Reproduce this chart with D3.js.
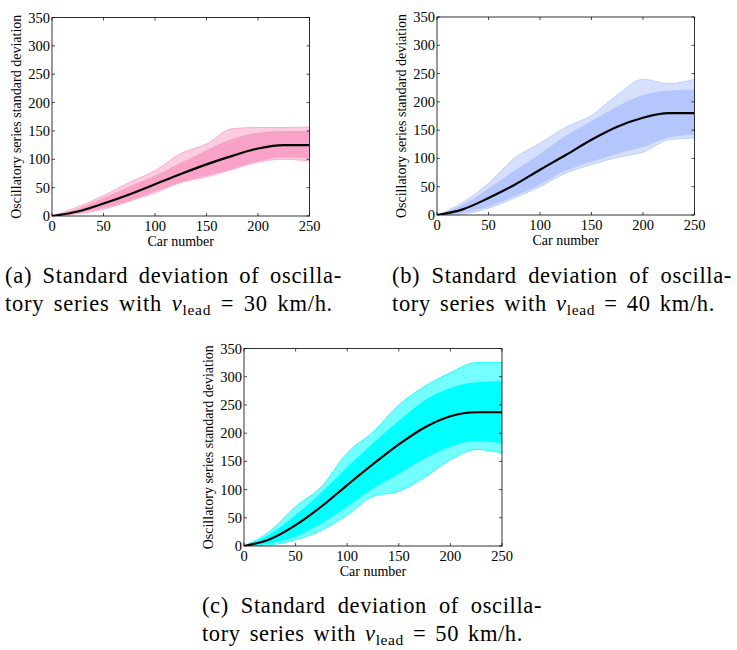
<!DOCTYPE html>
<html>
<head>
<meta charset="utf-8">
<script src="https://cdn.jsdelivr.net/npm/d3@7"></script>
<style>
    body { margin: 0; background: #fff; }
</style>
</head>
<body>
<div id="draw"></div>
<script>
var cars = [0, 25, 50, 75, 100, 125, 150, 175, 200, 225, 250];

// (a) v_lead = 30 km/h
var meanA = [0, 8, 22, 38, 56, 74, 91, 106, 119, 125, 125];
var upperA = [0, 16, 36, 59, 80, 110, 127, 154, 156, 156, 157];
var coreHighA = [0, 13, 32, 52, 71, 94, 116, 136, 147, 150, 150];
var coreLowA = [0, 5, 14, 27, 43, 59, 71, 83, 96, 103, 102];
var lowerA = [0, 4, 12, 26, 41, 59, 69, 82, 95, 100, 97];

// (b) v_lead = 40 km/h
var meanB = [0, 10, 30, 53, 80, 106, 133, 156, 172, 180, 180];
var upperB = [0, 22, 56, 100, 127, 155, 176, 212, 240, 232, 240];
var coreHighB = [0, 18, 47, 78, 108, 140, 166, 192, 212, 220, 222];
var coreLowB = [0, 4, 15, 33, 54, 78, 94, 108, 120, 137, 142];
var lowerB = [0, 2, 12, 30, 50, 74, 89, 102, 111, 133, 136];

// (c) v_lead = 50 km/h
var meanC = [0, 12, 37, 70, 108, 145, 180, 210, 230, 237, 237];
var upperC = [0, 26, 70, 105, 165, 202, 250, 283, 307, 325, 325];
var coreHighC = [0, 21, 55, 95, 140, 182, 222, 258, 280, 290, 292];
var coreLowC = [0, 5, 17, 40, 70, 102, 128, 155, 176, 186, 182];
var lowerC = [0, 2, 11, 28, 55, 88, 97, 122, 153, 171, 165];

var xTicks = [0, 50, 100, 150, 200, 250];
var yTicks = [0, 50, 100, 150, 200, 250, 300, 350];
var speeds = ['30', '40', '50'];
var letters = ['a', 'b', 'c'];

var serif = '"Liberation Serif", "DejaVu Serif", serif';

var svg = d3.select('#draw').append('svg')
    .attr('width', 737)
    .attr('height', 650)
    .attr('font-family', serif);

var panels = [
    {left: 52, top: 17.5, right: 309.5, bottom: 216, color: '#f9a2c8',
        mean: meanA, upper: upperA, lower: lowerA, hi: coreHighA, lo: coreLowA,
        cap: {x: 5, y: 283, w1: 337, w2: 328}},
    {left: 437, top: 17, right: 694.5, bottom: 215, color: '#b4c6fc',
        mean: meanB, upper: upperB, lower: lowerB, hi: coreHighB, lo: coreLowB,
        cap: {x: 392, y: 283, w1: 340, w2: 323}},
    {left: 244, top: 348.5, right: 502, bottom: 546, color: '#00ffff',
        mean: meanC, upper: upperC, lower: lowerC, hi: coreHighC, lo: coreLowC,
        cap: {x: 202, y: 613, w1: 340, w2: 321}}
];

function drawPanel(p, k) {
    var x = d3.scaleLinear().domain([0, 250]).range([p.left, p.right]),
        y = d3.scaleLinear().domain([0, 350]).range([p.bottom, p.top]);

    var g = svg.append('g');
    var clipId = 'clip' + k;
    g.append('clipPath').attr('id', clipId)
        .append('rect')
        .attr('x', p.left).attr('y', p.top)
        .attr('width', p.right - p.left).attr('height', p.bottom - p.top);

    var plot = g.append('g').attr('clip-path', 'url(#' + clipId + ')');

    var band = function (lo, hi) {
        return d3.area()
            .x(function (d, i) { return x(cars[i]); })
            .y0(function (d, i) { return y(lo[i]); })
            .y1(function (d, i) { return y(hi[i]); })
            .curve(d3.curveMonotoneX)(cars);
    };
    var line = d3.line()
        .x(function (d, i) { return x(cars[i]); })
        .y(function (d) { return y(d); })
        .curve(d3.curveMonotoneX);

    // spread of the individual runs, then the dense core
    plot.append('path').attr('d', band(p.lower, p.upper))
        .attr('fill', p.color).attr('fill-opacity', 0.55);
    plot.append('path').attr('d', band(p.lo, p.hi))
        .attr('fill', p.color);
    [p.upper, p.lower].forEach(function (arr) {
        plot.append('path').attr('d', line(arr))
            .attr('fill', 'none').attr('stroke', p.color).attr('stroke-width', 0.8);
    });

    // mean curve
    plot.append('path').attr('d', line(p.mean))
        .attr('fill', 'none').attr('stroke', '#000').attr('stroke-width', 2.2);

    // box with inward ticks on all four sides (matlab style)
    var tl = 3;
    g.append('rect')
        .attr('x', p.left).attr('y', p.top)
        .attr('width', p.right - p.left).attr('height', p.bottom - p.top)
        .attr('fill', 'none').attr('stroke', '#000').attr('stroke-width', 0.8);
    xTicks.forEach(function (t) {
        g.append('line').attr('x1', x(t)).attr('x2', x(t))
            .attr('y1', p.bottom).attr('y2', p.bottom - tl)
            .attr('stroke', '#000').attr('stroke-width', 0.7);
        g.append('line').attr('x1', x(t)).attr('x2', x(t))
            .attr('y1', p.top).attr('y2', p.top + tl)
            .attr('stroke', '#000').attr('stroke-width', 0.7);
        g.append('text').attr('x', x(t)).attr('y', p.bottom + 14.5)
            .attr('text-anchor', 'middle').attr('font-size', 14.5)
            .text(t);
    });
    yTicks.forEach(function (t) {
        g.append('line').attr('x1', p.left).attr('x2', p.left + tl)
            .attr('y1', y(t)).attr('y2', y(t))
            .attr('stroke', '#000').attr('stroke-width', 0.7);
        g.append('line').attr('x1', p.right).attr('x2', p.right - tl)
            .attr('y1', y(t)).attr('y2', y(t))
            .attr('stroke', '#000').attr('stroke-width', 0.7);
        g.append('text').attr('x', p.left - 2).attr('y', y(t) + 5)
            .attr('text-anchor', 'end').attr('font-size', 14.5)
            .text(t);
    });

    g.append('text')
        .attr('x', (p.left + p.right) / 2).attr('y', p.bottom + 30)
        .attr('text-anchor', 'middle').attr('font-size', 14)
        .text('Car number');
    g.append('text')
        .attr('transform', 'translate(' + (p.left - 31) + ',' + ((p.top + p.bottom) / 2) + ') rotate(-90)')
        .attr('text-anchor', 'middle').attr('font-size', 14)
        .text('Oscillatory series standard deviation');

    // caption, two lines; the last line widened a little (letters and words),
    // the first one then justified through word spacing
    var c = p.cap;
    var t2 = g.append('text').attr('x', c.x).attr('y', c.y + 28)
        .attr('font-size', 22.5);
    t2.append('tspan').text('tory series with ');
    t2.append('tspan').attr('font-style', 'italic').text('v');
    t2.append('tspan').attr('font-size', 15.5).attr('dy', 4).text('lead');
    t2.append('tspan').attr('dy', -4).text(' = ' + speeds[k] + ' km/h.');
    var n2 = t2.text().length,
        gaps2 = t2.text().split(' ').length - 1,
        spare = c.w2 - t2.node().getComputedTextLength(),
        ls = Math.max(0, spare * 0.55 / n2);
    t2.attr('letter-spacing', ls)
        .attr('word-spacing', Math.max(0, spare * 0.45 / gaps2));

    var s1 = '(' + letters[k] + ') Standard deviation of oscilla-';
    var t1 = g.append('text').attr('x', c.x).attr('y', c.y)
        .attr('font-size', 22.5)
        .attr('letter-spacing', ls)
        .text(s1);
    var gaps = s1.split(' ').length - 1;
    var extra = (c.w1 - t1.node().getComputedTextLength()) / gaps;
    t1.attr('word-spacing', extra);
}

panels.forEach(drawPanel);
</script>
</body>
</html>
